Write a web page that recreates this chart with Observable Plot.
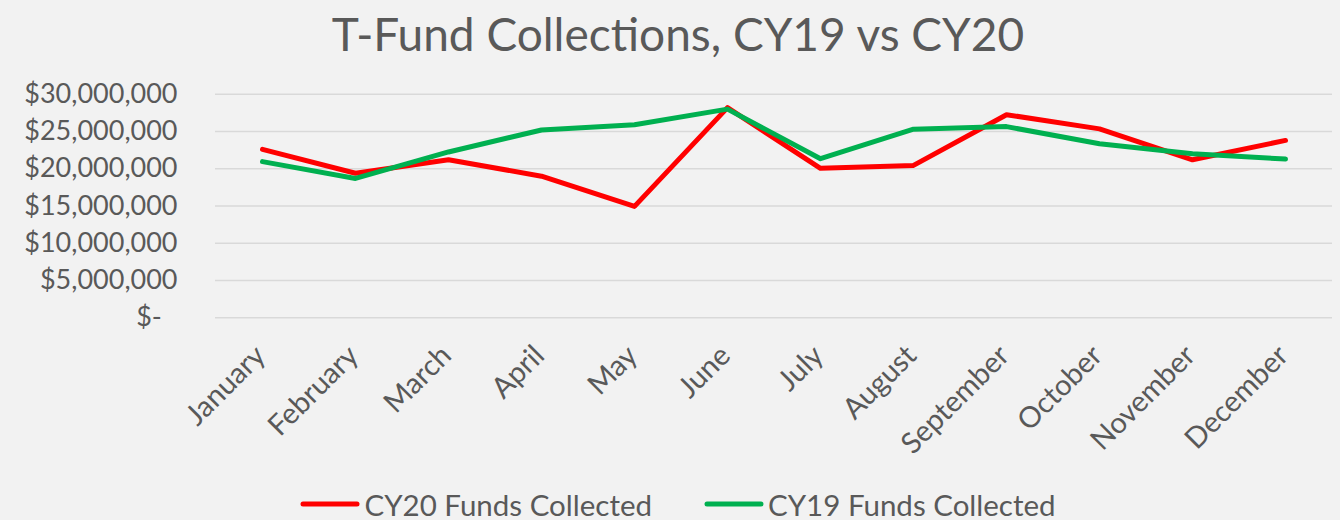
<!DOCTYPE html>
<html>
<head>
<meta charset="utf-8">
<script src="https://cdn.jsdelivr.net/npm/d3@7"></script>
<script src="https://cdn.jsdelivr.net/npm/@observablehq/plot@0.6"></script>
<style>
  html, body { margin: 0; padding: 0; background: #f2f2f2; }
  body { width: 1340px; height: 520px; position: relative; overflow: hidden; font-family: Lato, "Open Sans", sans-serif; color: #595959; }
  #title { position: absolute; left: 0; top: 0; width: 1340px; padding-left: 16px; box-sizing: border-box; height: 68px; line-height: 68px; text-align: center; font-size: 46px; }
  #chart { position: absolute; left: 0; top: 70px; }
  #legend { position: absolute; left: 0; top: 484px; width: 1356px; height: 40px; display: flex; justify-content: center; align-items: center; gap: 52px; font-size: 29.5px; }
  .item { display: flex; align-items: center; gap: 4px; }
</style>
</head>
<body>
<div id="title">T-Fund Collections, CY19 vs CY20</div>
<div id="chart"></div>
<div id="legend"></div>
<script>
const months = ["January","February","March","April","May","June","July","August","September","October","November","December"];
const cy20 = [22600000, 19400000, 21200000, 19000000, 14950000, 28200000, 20050000, 20450000, 27250000, 25350000, 21200000, 23800000];
const cy19 = [20950000, 18700000, 22250000, 25200000, 25900000, 28000000, 21350000, 25300000, 25650000, 23350000, 22000000, 21300000];
const yTicks = [0, 5000000, 10000000, 15000000, 20000000, 25000000, 30000000];
const seriesNames = ["CY20 Funds Collected", "CY19 Funds Collected"];
const seriesColors = ["#ff0000", "#00b050"];

const data20 = months.map((m, i) => ({month: m, value: cy20[i]}));
const data19 = months.map((m, i) => ({month: m, value: cy19[i]}));

const fmt = d3.format(",");
const chart = Plot.plot({
  width: 1340,
  height: 410,
  marginTop: 23.7,
  marginBottom: 162.7,
  marginLeft: 215,
  marginRight: 8,
  style: {background: "transparent", color: "#595959", fontFamily: "Lato, 'Open Sans', sans-serif"},
  x: {type: "point", domain: months, padding: 0.5, label: null},
  y: {domain: [0, 30000000], label: null},
  marks: [
    Plot.gridY(yTicks, {stroke: "#d9d9d9", strokeOpacity: 1, strokeWidth: 1.5}),
    Plot.axisY({ticks: yTicks, tickSize: 0, tickPadding: 38, fontSize: 27, fill: "#595959", label: null,
      tickFormat: d => d === 0 ? "$-\u2007" : "$" + fmt(d)}),
    Plot.axisX({tickSize: 0, tickRotate: -45, tickPadding: 33, dx: -2, fontSize: 29, fill: "#595959", label: null}),
    Plot.line(data20, {x: "month", y: "value", stroke: seriesColors[0], strokeWidth: 5, strokeLinecap: "round", strokeLinejoin: "round"}),
    Plot.line(data19, {x: "month", y: "value", stroke: seriesColors[1], strokeWidth: 5, strokeLinecap: "round", strokeLinejoin: "round"})
  ]
});
document.getElementById("chart").appendChild(chart);

const legend = document.getElementById("legend");
seriesNames.forEach((name, i) => {
  const item = document.createElement("div");
  item.className = "item";
  item.innerHTML = `<svg width="60" height="10"><line x1="3" y1="5" x2="57" y2="5" stroke="${seriesColors[i]}" stroke-width="5" stroke-linecap="round"/></svg><span>${name}</span>`;
  legend.appendChild(item);
});
</script>
</body>
</html>
